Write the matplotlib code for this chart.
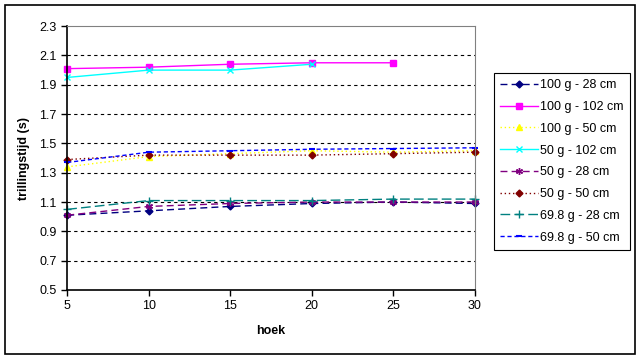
import matplotlib.pyplot as plt
from matplotlib.patches import Rectangle

plt.rcParams['font.family'] = ['Liberation Sans', 'DejaVu Sans']

# data
hoek = [5, 10, 15, 20, 25, 30]
labels = ['100 g - 28 cm', '100 g - 102 cm', '100 g - 50 cm', '50 g - 102 cm',
          '50 g - 28 cm', '50 g - 50 cm', '69.8 g - 28 cm', '69.8 g - 50 cm']
g100_28 = [1.01, 1.04, 1.07, 1.09, 1.10, 1.09]
g100_102 = [2.01, 2.02, 2.04, 2.05, 2.05, None]
g100_50 = [1.34, 1.41, 1.43, 1.45, 1.44, 1.45]
g50_102 = [1.95, 2.00, 2.00, 2.04, None, None]
g50_28 = [1.01, 1.07, 1.09, 1.10, 1.10, 1.10]
g50_50 = [1.39, 1.42, 1.42, 1.42, 1.43, 1.44]
g69_28 = [1.05, 1.11, 1.11, 1.11, 1.12, 1.12]
g69_50 = [1.37, 1.44, 1.45, 1.46, 1.465, 1.47]

series = [g100_28, g100_102, g100_50, g50_102, g50_28, g50_50, g69_28, g69_50]
styles = [
    dict(color='#000080', ls=(0, (5, 3)), marker='D', ms=3.5),
    dict(color='#FF00FF', ls='-', marker='s', ms=4.5),
    dict(color='#FFFF00', ls=(0, (1, 2)), marker='^', ms=4.5),
    dict(color='#00FFFF', ls='-', marker='x', ms=4, mew=1),
    dict(color='#800080', ls=(0, (5, 3)), marker=(6, 2, 0), ms=5, mew=1),
    dict(color='#800000', ls=(0, (1, 2)), marker='D', ms=3.5),
    dict(color='#008080', ls=(0, (7, 3)), marker='+', ms=6, mew=1),
    dict(color='#0000FF', ls=(0, (3, 2)), marker='_', ms=5, mew=1.5),
]

fig = plt.figure(figsize=(6.4, 3.58), dpi=100)
ax = fig.add_axes([0.105, 0.19, 0.637, 0.737])

for vals, lab, st in zip(series, labels, styles):
    xs = [x for x, v in zip(hoek, vals) if v is not None]
    ys = [v for v in vals if v is not None]
    ax.plot(xs, ys, label=lab, lw=1, color=st['color'], ls=st['ls'],
            marker=st['marker'], ms=st['ms'], mew=st.get('mew', 1),
            mfc=st['color'], mec=st['color'], clip_on=False)

ax.set_xlim(5, 30)
ax.set_ylim(0.5, 2.3)
ax.set_xticks(hoek)
ax.set_yticks([0.5, 0.7, 0.9, 1.1, 1.3, 1.5, 1.7, 1.9, 2.1, 2.3])
ax.set_yticklabels(['0.5', '0.7', '0.9', '1.1', '1.3', '1.5', '1.7', '1.9', '2.1', '2.3'])
for y in [0.7, 0.9, 1.1, 1.3, 1.5, 1.7, 1.9, 2.1]:
    ax.axhline(y, color='black', lw=0.8, ls=(0, (3, 3)), zorder=0)

ax.tick_params(labelsize=9, length=4, width=1, direction='out', colors='black')
ax.spines['left'].set_linewidth(1.2)
ax.spines['bottom'].set_linewidth(1.2)
ax.spines['top'].set_color('#808080')
ax.spines['right'].set_color('#808080')
ax.set_xlabel('hoek', fontsize=9, fontweight='bold', labelpad=9)
ax.set_ylabel('trillingstijd (s)', fontsize=9, fontweight='bold', labelpad=7)

leg = ax.legend(loc='upper left', bbox_to_anchor=(1.047, 0.822), fontsize=9,
                frameon=True, fancybox=False, edgecolor='black', framealpha=1,
                handlelength=3, handletextpad=0.2, labelspacing=0.78,
                borderpad=0.5, borderaxespad=0)
leg.get_frame().set_linewidth(0.8)

# chart border
fig.patches.append(Rectangle((5 / 640, 4 / 358), 630 / 640, 349 / 358,
                             transform=fig.transFigure, fill=False,
                             edgecolor='black', lw=1.2))

fig.savefig('out.png', dpi=100, facecolor='white')
